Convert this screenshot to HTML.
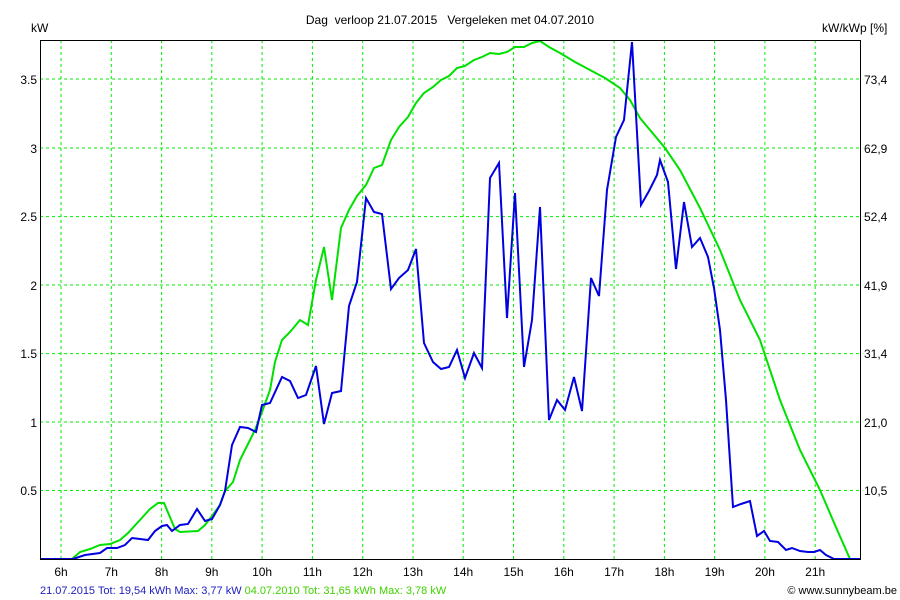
<!DOCTYPE html>
<html><head><style>
body{margin:0;background:#fff;}
svg{display:block;font-family:"Liberation Sans",sans-serif;}
</style></head><body>
<svg width="900" height="600" xmlns="http://www.w3.org/2000/svg">
<rect width="900" height="600" fill="#fff"/>
<g stroke="#00ee00" stroke-width="1" stroke-dasharray="3,3">
<line x1="61" y1="40" x2="61" y2="559"/><line x1="111.3" y1="40" x2="111.3" y2="559"/><line x1="161.6" y1="40" x2="161.6" y2="559"/><line x1="211.8" y1="40" x2="211.8" y2="559"/><line x1="262.1" y1="40" x2="262.1" y2="559"/><line x1="312.4" y1="40" x2="312.4" y2="559"/><line x1="362.7" y1="40" x2="362.7" y2="559"/><line x1="413" y1="40" x2="413" y2="559"/><line x1="463.2" y1="40" x2="463.2" y2="559"/><line x1="513.5" y1="40" x2="513.5" y2="559"/><line x1="563.8" y1="40" x2="563.8" y2="559"/><line x1="614.1" y1="40" x2="614.1" y2="559"/><line x1="664.4" y1="40" x2="664.4" y2="559"/><line x1="714.6" y1="40" x2="714.6" y2="559"/><line x1="764.9" y1="40" x2="764.9" y2="559"/><line x1="815.2" y1="40" x2="815.2" y2="559"/>
<line x1="40" y1="79" x2="860" y2="79"/><line x1="40" y1="148" x2="860" y2="148"/><line x1="40" y1="216.6" x2="860" y2="216.6"/><line x1="40" y1="285" x2="860" y2="285"/><line x1="40" y1="353.6" x2="860" y2="353.6"/><line x1="40" y1="422" x2="860" y2="422"/><line x1="40" y1="490.5" x2="860" y2="490.5"/>
</g>
<polyline fill="none" stroke="#00e000" stroke-width="2" points="40,559 72,559 80,552 90,549 100,545 110,544 120,540 128,533 140,520 150,509 158,503 164,503 175,529 180,532 198,531 205,525 212,516 220,505 225,491 233,482 240,460 250,440 255,430 262,412 270,390 275,362 282,340 290,332 300,320 308,325 316,280 324,247 332,300 341,228 349,210 357,196 366,185 374,168 382,165 391,140 399,127 408,117 416,103 424,93 433,87 441,80 449,76 457,68 465,66 474,60 482,57 490,53 499,54 507,52 515,47 524,47 532,43 540,41 549,47 560,53 575,62 590,70 605,78 620,88 630,100 640,118 650,130 665,148 680,170 700,208 720,250 740,300 760,340 780,400 800,450 820,490 835,525 850,559 860,559"/>
<polyline fill="none" stroke="#0000e0" stroke-width="2" points="40,559 73,559 85,555 100,553 107,548 117,548 125,545 132,538 140,539 148,540 155,531 162,526 167,525 172,531 180,525 188,524 197,509 205,521 212,519 220,505 225,491 232,445 240,427 248,428 256,432 262,405 270,403 282,377 290,381 298,398 306,395 316,366 324,424 332,393 341,391 349,306 357,282 366,198 374,212 382,214 391,289 399,278 408,270 416,249 424,343 433,362 441,369 449,367 457,350 465,378 474,353 482,368 490,178 499,163 507,318 515,193 524,367 532,320 540,207 549,420 557,400 565,410 574,377 582,411 591,278 599,296 607,190 616,137 624,120 632,42 641,205 649,191 657,175 660,160 668,182 676,269 684,202 692,247 700,238 708,257 714,288 720,330 726,400 733,507 741,504 750,501 757,536 764,531 770,541 778,542 786,550 792,548 800,551 808,552 814,552 820,550 826,555 834,559 860,559"/>
<rect x="40.5" y="40.5" width="820" height="519" fill="none" stroke="#000" stroke-width="1"/>
<g font-size="12" fill="#000">
<text x="450" y="24" text-anchor="middle">Dag&#160; verloop 21.07.2015&#160;&#160; Vergeleken met 04.07.2010</text>
<text x="31" y="32">kW</text>
<text x="822" y="32">kW/kWp [%]</text>
<g text-anchor="end">
<text x="37" y="84">3.5</text><text x="37" y="153">3</text><text x="37" y="221">2.5</text><text x="37" y="290">2</text><text x="37" y="358">1.5</text><text x="37" y="427">1</text><text x="37" y="495">0.5</text>
</g>
<g>
<text x="864" y="84">73,4</text><text x="864" y="153">62,9</text><text x="864" y="221">52,4</text><text x="864" y="290">41,9</text><text x="864" y="358">31,4</text><text x="864" y="427">21,0</text><text x="864" y="495">10,5</text>
</g>
<g text-anchor="middle">
<text x="61" y="576">6h</text><text x="111.3" y="576">7h</text><text x="161.6" y="576">8h</text><text x="211.8" y="576">9h</text><text x="262.1" y="576">10h</text><text x="312.4" y="576">11h</text><text x="362.7" y="576">12h</text><text x="413" y="576">13h</text><text x="463.2" y="576">14h</text><text x="513.5" y="576">15h</text><text x="563.8" y="576">16h</text><text x="614.1" y="576">17h</text><text x="664.4" y="576">18h</text><text x="714.6" y="576">19h</text><text x="764.9" y="576">20h</text><text x="815.2" y="576">21h</text>
</g>
</g>
<text x="40" y="594" font-size="11"><tspan fill="#2020c0">21.07.2015 Tot: 19,54 kWh Max: 3,77 kW </tspan><tspan fill="#40d000">04.07.2010 Tot: 31,65 kWh Max: 3,78 kW</tspan></text>
<text x="897" y="594" font-size="11" text-anchor="end" fill="#000">© www.sunnybeam.be</text>
</svg>
</body></html>
